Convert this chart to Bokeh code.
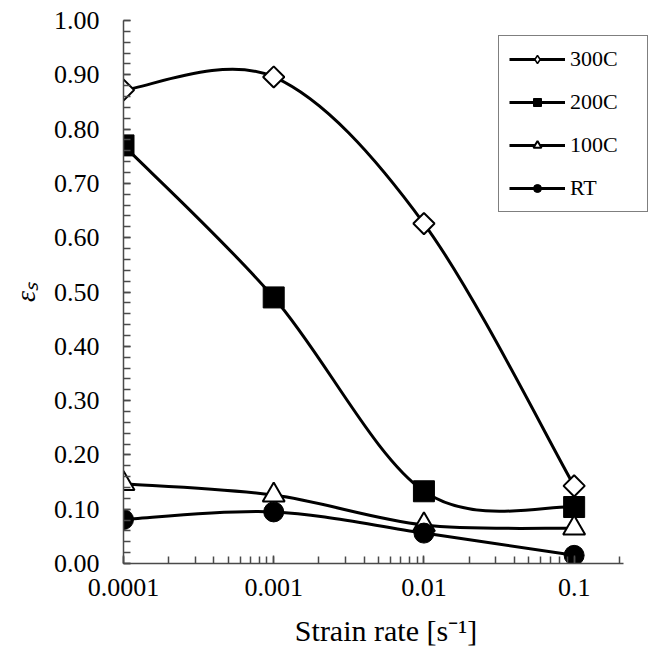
import math
from bokeh.plotting import figure
from bokeh.models import (LogTicker, SingleIntervalTicker, PrintfTickFormatter,
                          CustomJSTickFormatter, Legend, LegendItem, Range1d)
from bokeh.embed import file_html
from bokeh.resources import INLINE

# ---- data ----
strain_rate = [0.0001, 0.001, 0.01, 0.1]
eps_300C = [0.872, 0.896, 0.626, 0.143]
eps_200C = [0.770, 0.490, 0.133, 0.104]
eps_100C = [0.147, 0.126, 0.071, 0.065]
eps_RT = [0.081, 0.095, 0.056, 0.015]
series_names = ["300C", "200C", "100C", "RT"]
y_tick_step = 0.1
x_axis_end = 0.213

FONT = "Liberation Serif"

p = figure(width=652, height=660, x_axis_type="log",
           x_range=Range1d(1e-4, 0.3126), y_range=Range1d(0, 1.0),
           output_backend="svg", toolbar_location=None,
           min_border_left=123, min_border_right=4, min_border_top=20,
           min_border_bottom=97)
p.outline_line_color = None
p.xgrid.visible = False
p.ygrid.visible = False
p.background_fill_color = "white"
p.border_fill_color = "white"


def smooth_segments(xs, ys):
    """Bezier control points (Catmull-Rom style smoothing) in log-x space."""
    lx = [math.log10(v) for v in xs]
    n = len(xs)
    d = dict(x0=[], y0=[], x1=[], y1=[], cx0=[], cy0=[], cx1=[], cy1=[])
    for i in range(n - 1):
        a = max(i - 1, 0)
        b = min(i + 2, n - 1)
        c0x = lx[i] + (lx[i + 1] - lx[a]) / 6.0
        c0y = ys[i] + (ys[i + 1] - ys[a]) / 6.0
        c1x = lx[i + 1] - (lx[b] - lx[i]) / 6.0
        c1y = ys[i + 1] - (ys[b] - ys[i]) / 6.0
        d["x0"].append(xs[i]); d["y0"].append(ys[i])
        d["x1"].append(xs[i + 1]); d["y1"].append(ys[i + 1])
        d["cx0"].append(10 ** c0x); d["cy0"].append(c0y)
        d["cx1"].append(10 ** c1x); d["cy1"].append(c1y)
    return d


series = [eps_300C, eps_200C, eps_100C, eps_RT]

# smoothed curves
curves = []
for ys in series:
    seg = smooth_segments(strain_rate, ys)
    curves.append(p.bezier(line_color="black", line_width=3, **seg))

# markers
# 300C: a small diamond (used for the legend swatch) hidden under the
# large rotated square that forms the visible open diamond on the plot.
m300_legend = p.scatter(x=strain_rate, y=eps_300C, marker="diamond", size=10,
                        fill_color="white", line_color="black", line_width=1.5)
p.scatter(x=strain_rate, y=eps_300C, marker="square", angle=math.pi / 4, size=15,
          fill_color="white", line_color="black", line_width=2)
m200 = p.scatter(x=strain_rate, y=eps_200C, marker="square", size=21,
                 fill_color="black", line_color="black", line_width=1)
m100 = p.scatter(x=strain_rate, y=eps_100C, marker="triangle", size=22,
                 fill_color="white", line_color="black", line_width=2)
mRT = p.scatter(x=strain_rate, y=eps_RT, marker="circle", size=20,
                fill_color="black", line_color="black", line_width=1)

markers = [m300_legend, m200, m100, mRT]
items = [LegendItem(label=name, renderers=[c, m])
         for name, c, m in zip(series_names, curves, markers)]

legend = Legend(items=items, location=(375, 351), orientation="vertical",
                border_line_color="black", border_line_width=1,
                background_fill_color="white", background_fill_alpha=1,
                label_text_font=FONT, label_text_font_size="22px",
                label_text_color="black",
                padding=10, spacing=17, glyph_height=20, glyph_width=56,
                label_standoff=5, label_height=20, label_width=67, margin=0)
p.add_layout(legend)

AXIS_COLOR = "#4a4a4a"

# x axis
xa = p.xaxis[0]
xa.bounds = (strain_rate[0], x_axis_end)
xa.ticker = LogTicker(num_minor_ticks=10)
xa.formatter = CustomJSTickFormatter(code="return tick.toPrecision(1);")
xa.major_label_text_font = FONT
xa.major_label_text_font_size = "26px"
xa.major_label_text_color = "black"
xa.major_label_standoff = 15
xa.axis_line_color = AXIS_COLOR
xa.axis_line_width = 1.5
xa.major_tick_line_color = AXIS_COLOR
xa.minor_tick_line_color = AXIS_COLOR
xa.major_tick_line_width = 1.5
xa.minor_tick_line_width = 1.5
xa.major_tick_in = 8
xa.major_tick_out = 0
xa.minor_tick_in = 7
xa.minor_tick_out = 0
xa.axis_label = "Strain rate [s⁻¹]"
xa.axis_label_text_font = FONT
xa.axis_label_text_font_style = "normal"
xa.axis_label_text_font_size = "30px"
xa.axis_label_text_color = "black"
xa.axis_label_standoff = 15

# y axis
ya = p.yaxis[0]
ya.ticker = SingleIntervalTicker(interval=y_tick_step, num_minor_ticks=5)
ya.formatter = PrintfTickFormatter(format="%.2f")
ya.major_label_text_font = FONT
ya.major_label_text_font_size = "26px"
ya.major_label_text_color = "black"
ya.major_label_standoff = 24
ya.axis_line_color = AXIS_COLOR
ya.axis_line_width = 1.5
ya.major_tick_line_color = AXIS_COLOR
ya.minor_tick_line_color = AXIS_COLOR
ya.major_tick_line_width = 1.5
ya.minor_tick_line_width = 1.5
ya.major_tick_in = 7
ya.major_tick_out = 0
ya.minor_tick_in = 7
ya.minor_tick_out = 0
ya.axis_label = "εₛ"
ya.axis_label_text_font = FONT
ya.axis_label_text_font_style = "italic"
ya.axis_label_text_font_size = "28px"
ya.axis_label_text_color = "black"
ya.axis_label_standoff = 10

open("out.html", "w").write(file_html(p, INLINE))
